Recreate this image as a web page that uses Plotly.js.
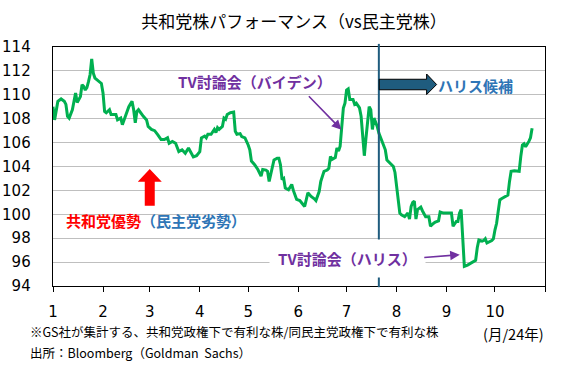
<!DOCTYPE html>
<html>
<head>
<meta charset="utf-8">
<script src="https://cdn.plot.ly/plotly-3.0.1.min.js"></script>
<style>html,body{margin:0;padding:0;background:#fff;}#chart{width:563px;height:370px;}</style>
</head>
<body>
<div id="chart"></div>
<script>
// Republican-favoured vs Democrat-favoured basket (GS), 2024
const dates = [
'2024-01-01','2024-01-02','2024-01-04','2024-01-06','2024-01-08','2024-01-09','2024-01-10','2024-01-11','2024-01-13','2024-01-14','2024-01-15','2024-01-16','2024-01-18','2024-01-19','2024-01-20','2024-01-21','2024-01-22','2024-01-23','2024-01-24','2024-01-25','2024-01-26','2024-01-27','2024-01-30','2024-01-31',
'2024-02-01','2024-02-02','2024-02-03','2024-02-05','2024-02-06','2024-02-09','2024-02-10','2024-02-12','2024-02-13','2024-02-15','2024-02-17','2024-02-19','2024-02-20','2024-02-21','2024-02-22','2024-02-23','2024-02-25','2024-02-26','2024-02-28','2024-02-29',
'2024-03-02','2024-03-04','2024-03-06','2024-03-08','2024-03-10','2024-03-12','2024-03-13','2024-03-15','2024-03-17','2024-03-19','2024-03-21','2024-03-23','2024-03-25','2024-03-26','2024-03-28','2024-03-30',
'2024-04-01','2024-04-02','2024-04-04','2024-04-05','2024-04-06','2024-04-08','2024-04-10','2024-04-11','2024-04-12','2024-04-13','2024-04-15','2024-04-16','2024-04-17','2024-04-18','2024-04-20','2024-04-22','2024-04-23','2024-04-24','2024-04-26','2024-04-27','2024-04-29',
'2024-05-01','2024-05-02','2024-05-03','2024-05-05','2024-05-07','2024-05-09','2024-05-10','2024-05-12','2024-05-13','2024-05-14','2024-05-15','2024-05-16','2024-05-17','2024-05-19','2024-05-20','2024-05-21','2024-05-22','2024-05-23','2024-05-24','2024-05-26','2024-05-28','2024-05-29','2024-05-31',
'2024-06-02','2024-06-04','2024-06-05','2024-06-07','2024-06-09','2024-06-11','2024-06-12','2024-06-14','2024-06-15','2024-06-17','2024-06-19','2024-06-20','2024-06-21','2024-06-22','2024-06-24','2024-06-25','2024-06-26','2024-06-27','2024-06-28','2024-06-29','2024-06-30',
'2024-07-01','2024-07-02','2024-07-03','2024-07-05','2024-07-06','2024-07-07','2024-07-08','2024-07-09','2024-07-10','2024-07-11','2024-07-12','2024-07-13','2024-07-15','2024-07-16','2024-07-17','2024-07-18','2024-07-19','2024-07-20','2024-07-21','2024-07-23','2024-07-25','2024-07-26','2024-07-28','2024-07-30','2024-07-31',
'2024-08-01','2024-08-02','2024-08-03','2024-08-04','2024-08-06','2024-08-08','2024-08-09','2024-08-10','2024-08-11','2024-08-12','2024-08-13','2024-08-14','2024-08-16','2024-08-17','2024-08-19','2024-08-21','2024-08-22','2024-08-24','2024-08-25','2024-08-27','2024-08-28','2024-08-30',
'2024-09-01','2024-09-03','2024-09-04','2024-09-05','2024-09-07','2024-09-08','2024-09-09','2024-09-10','2024-09-11','2024-09-12','2024-09-14','2024-09-16','2024-09-18','2024-09-19','2024-09-20','2024-09-21','2024-09-23','2024-09-24','2024-09-25','2024-09-26','2024-09-29','2024-09-30',
'2024-10-01','2024-10-02','2024-10-03','2024-10-04','2024-10-05','2024-10-07','2024-10-08','2024-10-09','2024-10-10','2024-10-11','2024-10-13','2024-10-15','2024-10-16','2024-10-17','2024-10-18','2024-10-19','2024-10-20','2024-10-22','2024-10-23','2024-10-24'
];
const performance = [
109.0,107.9,109.45,109.65,109.45,109.2,108.2,108.05,108.75,109.6,110.15,109.35,109.85,110.85,110.7,110.4,110.6,111.1,111.7,113.0,111.8,111.4,111.1,110.95,
110.15,108.6,108.5,108.75,108.35,108.35,107.9,108.05,107.5,108.2,109.0,109.45,108.75,107.65,108.6,108.75,108.35,108.2,107.9,107.35,
107.1,107.0,106.65,106.25,106.25,106.4,105.95,106.1,105.95,105.25,105.4,105.1,105.55,105.25,104.8,104.9,
105.25,106.4,106.55,106.4,106.7,106.7,107.1,106.85,107.25,107.1,107.35,108.05,107.95,108.35,108.5,108.55,106.95,106.7,106.75,106.5,106.4,
105.8,105.4,104.45,104.15,103.75,103.2,103.75,103.7,103.6,102.75,103.35,104.0,104.55,104.7,104.7,104.15,102.9,103.0,102.2,102.05,102.5,102.0,101.25,
101.15,100.8,100.65,101.8,101.5,101.3,101.15,101.9,102.75,103.6,103.7,103.85,104.85,104.6,104.75,105.55,105.3,105.7,107.2,108.9,109.3,
110.4,110.5,109.6,109.6,109.2,109.3,109.05,108.9,108.2,106.65,104.9,106.35,109.0,108.75,107.1,108.05,107.75,107.35,106.8,106.1,105.4,104.55,104.3,104.0,103.5,
102.3,100.95,100.1,99.95,99.8,100.1,99.6,100.65,101.0,101.1,99.6,100.4,100.6,100.3,99.8,99.8,99.0,99.25,99.35,99.45,100.2,100.1,
100.1,100.15,100.1,99.0,99.4,99.4,100.1,100.4,97.75,95.65,95.75,95.9,96.05,96.15,97.2,97.85,97.75,97.8,97.95,97.6,97.8,97.95,
98.7,99.25,100.25,101.2,101.3,101.45,101.5,101.6,102.75,103.6,103.65,103.65,103.6,104.85,105.8,105.9,105.65,106.1,106.4,107.2
];
const monthTicks = ['2024-01-01','2024-02-01','2024-03-01','2024-04-01','2024-05-01','2024-06-01','2024-07-01','2024-08-01','2024-09-01','2024-10-01','2024-11-01'];
const monthLabels = ['1','2','3','4','5','6','7','8','9','10',''];
const harrisCandidateDate = '2024-07-21';
const bidenDebatePoint = ['2024-06-27 19:00', 107.08];
const harrisDebatePoint = ['2024-09-09 04:00', 96.62];

const JP = '"Noto Sans CJK JP", "Noto Sans", sans-serif';
const purple = '#7030A0';
const blue = '#2E75B6';
const navy = '#1F5C7E';

const trace = {
  x: dates, y: performance, type: 'scatter', mode: 'lines',
  line: {color: '#00B050', width: 3}, hoverinfo: 'skip'
};

const layout = {
  width: 563, height: 370,
  margin: {l: 53, r: 18, t: 47, b: 84},
  paper_bgcolor: '#fff', plot_bgcolor: '#fff',
  showlegend: false,
  title: {text: '共和党株パフォーマンス（vs民主党株）', font: {family: JP, size: 17, color: '#000'},
          x: 0.49, xref: 'paper', xanchor: 'center', y: 0.94, yref: 'container', yanchor: 'middle'},
  xaxis: {
    type: 'date', range: ['2024-01-01', '2024-11-01'],
    tickmode: 'array', tickvals: monthTicks, ticktext: monthLabels,
    ticks: 'outside', ticklen: 5, tickwidth: 1, tickcolor: '#000',
    showline: true, linecolor: '#000', linewidth: 1.3, mirror: true,
    showgrid: false, zeroline: false, ticklabelstandoff: 7,
    tickfont: {family: 'DejaVu Sans, sans-serif', size: 15, color: '#000'}
  },
  yaxis: {
    range: [94, 114], dtick: 2, tick0: 94,
    showline: true, linecolor: '#000', linewidth: 1.3, mirror: true,
    showgrid: true, gridcolor: '#BFBFBF', gridwidth: 1, zeroline: false,
    ticks: '', ticklabelstandoff: 18,
    tickfont: {family: 'DejaVu Sans, sans-serif', size: 15, color: '#000'}
  },
  shapes: [
    {type: 'line', xref: 'x', yref: 'paper', x0: harrisCandidateDate, x1: harrisCandidateDate, y0: -0.005, y1: 1.013,
     line: {color: navy, width: 2}, layer: 'above'},
    {type: 'path', xref: 'paper', yref: 'paper',
     path: 'M 0.663 0.865 L 0.7594 0.865 L 0.7594 0.887 L 0.7797 0.843 L 0.7594 0.801 L 0.7594 0.821 L 0.663 0.821 Z',
     fillcolor: navy, line: {color: '#000', width: 1}, layer: 'above'},
    {type: 'path', xref: 'paper', yref: 'paper',
     path: 'M 0.1865 0.336 L 0.1865 0.4364 L 0.1723 0.4364 L 0.1966 0.4895 L 0.2211 0.4364 L 0.2068 0.4364 L 0.2068 0.336 Z',
     fillcolor: '#FF0000', line: {color: '#FF0000', width: 0}, layer: 'above'}
  ],
  annotations: [
    {text: '<b>TV討論会（バイデン）</b>', xref: 'paper', yref: 'paper', x: 0.41, y: 0.8536,
     xanchor: 'center', yanchor: 'middle', showarrow: false, font: {family: JP, size: 15, color: purple}},
    {text: '', x: bidenDebatePoint[0], y: bidenDebatePoint[1], xref: 'x', yref: 'y',
     showarrow: true, ax: -34, ay: -35, arrowhead: 2, arrowsize: 1.2, arrowwidth: 1.6, arrowcolor: purple},
    {text: '<b>TV討論会（ハリス）</b>', xref: 'paper', yref: 'paper', x: 0.5993, y: 0.113,
     xanchor: 'center', yanchor: 'middle', showarrow: false, bgcolor: '#fff', borderpad: 8,
     font: {family: JP, size: 15, color: purple}},
    {text: '', x: harrisDebatePoint[0], y: harrisDebatePoint[1], xref: 'x', yref: 'y',
     showarrow: true, ax: -37, ay: 3, arrowhead: 2, arrowsize: 1.2, arrowwidth: 1.6, arrowcolor: purple},
    {text: '<b>ハリス候補</b>', xref: 'paper', yref: 'paper', x: 0.8597, y: 0.841,
     xanchor: 'center', yanchor: 'middle', showarrow: false, font: {family: JP, size: 15, color: blue}},
    {text: '<b><span style="color:#FF0000">共和党優勢</span><span style="color:' + blue + '">（民主党劣勢）</span></b>',
     xref: 'paper', yref: 'paper', x: 0.0218, y: 0.276, xanchor: 'left', yanchor: 'middle', showarrow: false,
     font: {family: JP, size: 15, color: '#FF0000'}},
    {text: '※GS社が集計する、共和党政権下で有利な株/同民主党政権下で有利な株', xref: 'paper', yref: 'paper',
     x: -0.0515, y: -0.192, xanchor: 'left', yanchor: 'middle', showarrow: false,
     font: {family: JP, size: 12.5, color: '#000'}},
    {text: '出所：Bloomberg（Goldman  Sachs）', xref: 'paper', yref: 'paper',
     x: -0.0515, y: -0.28, xanchor: 'left', yanchor: 'middle', showarrow: false,
     font: {family: JP, size: 12.5, color: '#000'}},
    {text: '(月/24年)', xref: 'paper', yref: 'paper', x: 1.002, y: -0.197, xanchor: 'right', yanchor: 'middle',
     showarrow: false, font: {family: JP, size: 14.5, color: '#000'}}
  ]
};

Plotly.newPlot('chart', [trace], layout, {staticPlot: true, displayModeBar: false});
</script>
</body>
</html>
